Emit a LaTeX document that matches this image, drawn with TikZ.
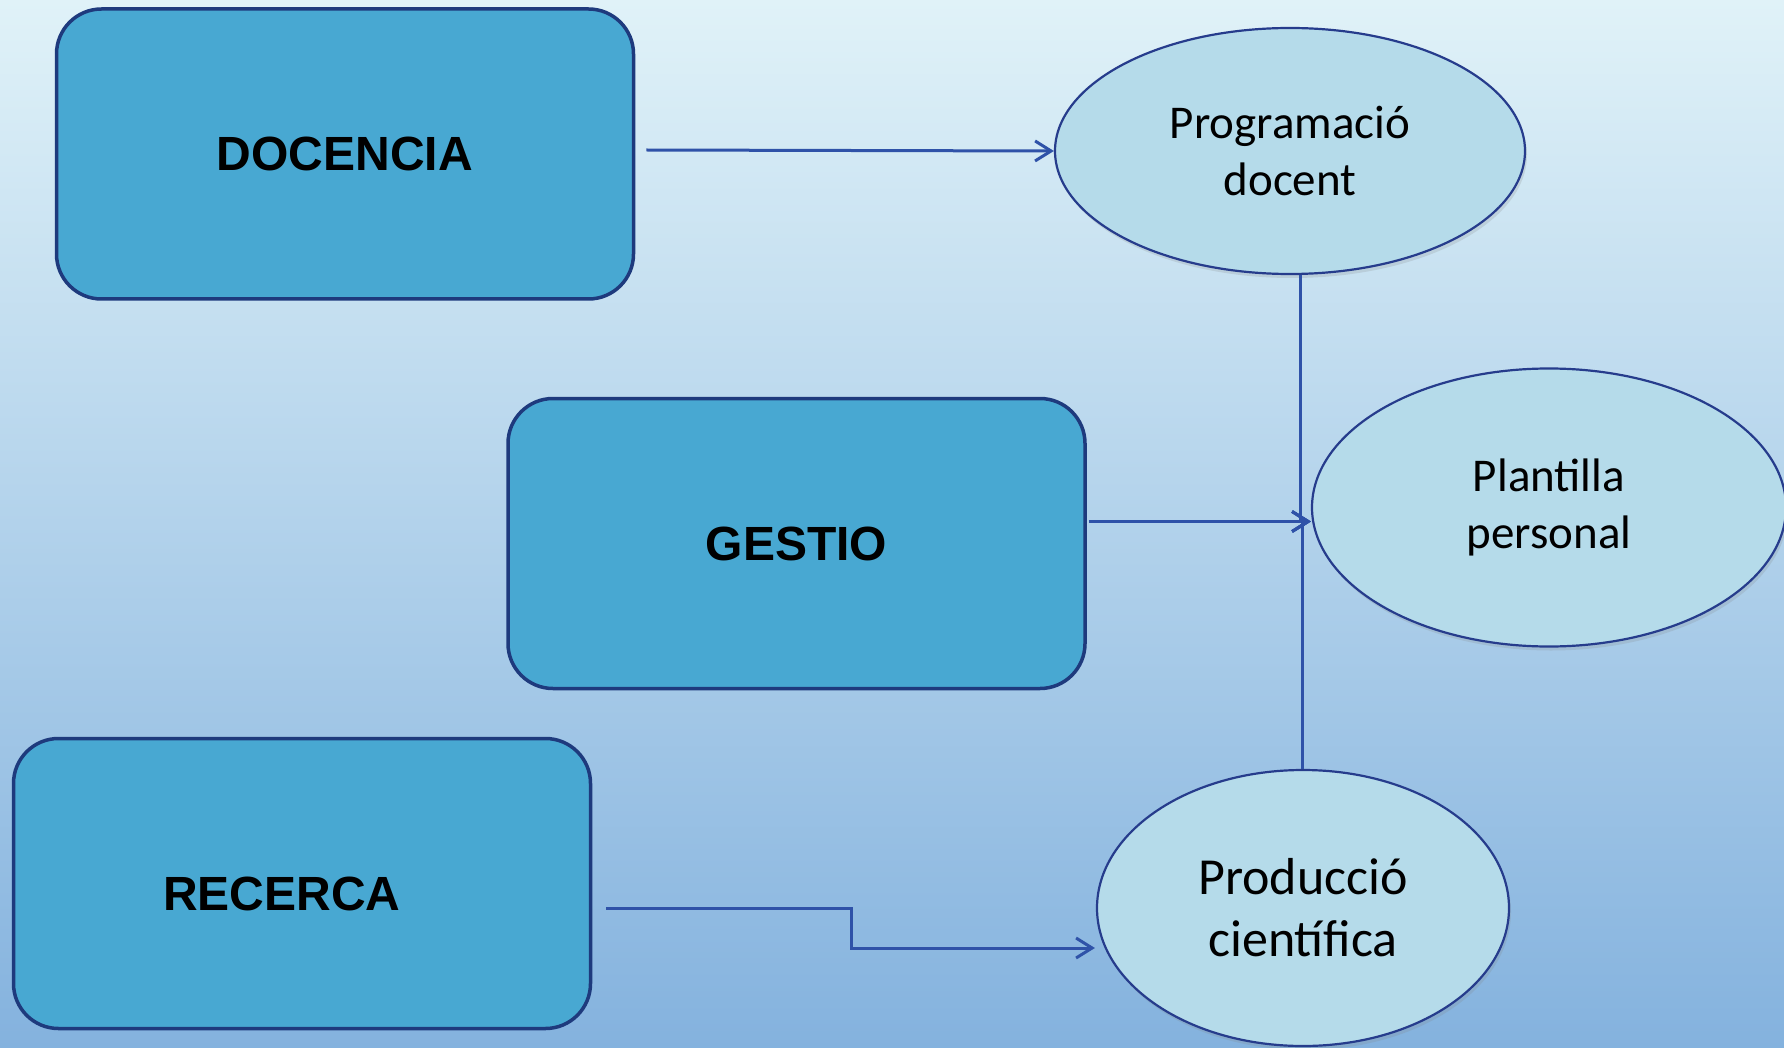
\documentclass[tikz,border=0pt]{standalone}
\usepackage{fontspec}
\usetikzlibrary{shapes.geometric,arrows.meta,positioning,shadows}
\newfontfamily\arialfont{Liberation Sans}
\newfontfamily\calibrifont{Carlito}
\definecolor{bgtop}{RGB}{224,242,248}
\definecolor{bgmid}{RGB}{200,227,241}
\definecolor{bgbot}{RGB}{132,178,222}
\definecolor{boxfill}{RGB}{72,168,210}
\definecolor{boxline}{RGB}{30,58,125}
\definecolor{ellfill}{RGB}{181,219,234}
\definecolor{ellline}{RGB}{38,60,140}
\definecolor{arrline}{RGB}{47,82,168}

\begin{document}
\begin{tikzpicture}[x=1pt,y=-1pt,
  area/.style={draw=boxline,fill=boxfill,line width=3.5pt,rounded corners=45pt,
    minimum width=577pt,minimum height=290pt,inner sep=0pt},
  areatext/.style={font=\arialfont\bfseries\fontsize{48}{56}\selectfont},
  result/.style={ellipse,draw=ellline,fill=ellfill,line width=2.2pt,inner sep=0pt,
    drop shadow={opacity=0.2,shadow xshift=2pt,shadow yshift=-4pt},
    align=center,font=\calibrifont\fontsize{47}{57}\selectfont},
  link/.style={draw=arrline,line width=3pt,-{Straight Barb[length=16pt,width=20pt]}}]
\useasboundingbox (0,0) rectangle (1784,1048);
\fill [top color=bgtop,middle color=bgmid,bottom color=bgbot] (0,0) rectangle (1784,1048);

\node [area,areatext] (docencia) at (345,154) {DOCENCIA};
\node [area,areatext] (gestio) at (796.5,543.5) {GESTIO};
\node [area] (recerca) at (302,883.5) {};
\node [areatext] (recercatxt) at (282,894) {RECERCA};

\node [result,minimum width=470pt,minimum height=246pt] (prog) at (1290,151) {Programació\\docent};
\node [result,minimum width=474pt,minimum height=278pt] (plant) at (1549,507.5) {Plantilla\\personal};
\node [result,minimum width=412pt,minimum height=276pt,
  font=\calibrifont\fontsize{52}{62}\selectfont] (prod) at (1303,908) {Producció\\científica};

\draw [link] ([xshift=11pt,yshift=4pt]docencia.east) -- (prog.west);
\draw [link] ([xshift=2pt,yshift=22pt]gestio.east) -- ([yshift=-14pt]plant.west);
\draw [link] ([xshift=10pt]prog.south) |- ([yshift=-14pt]plant.west);
\draw [link] ([xshift=-1pt]prod.north) |- ([yshift=-14pt]plant.west);
\draw [link] ([xshift=14pt,yshift=-24.5pt]recerca.east) -- ++(245,0) |- ([xshift=-1pt,yshift=-40pt]prod.west);
\end{tikzpicture}
\end{document}
